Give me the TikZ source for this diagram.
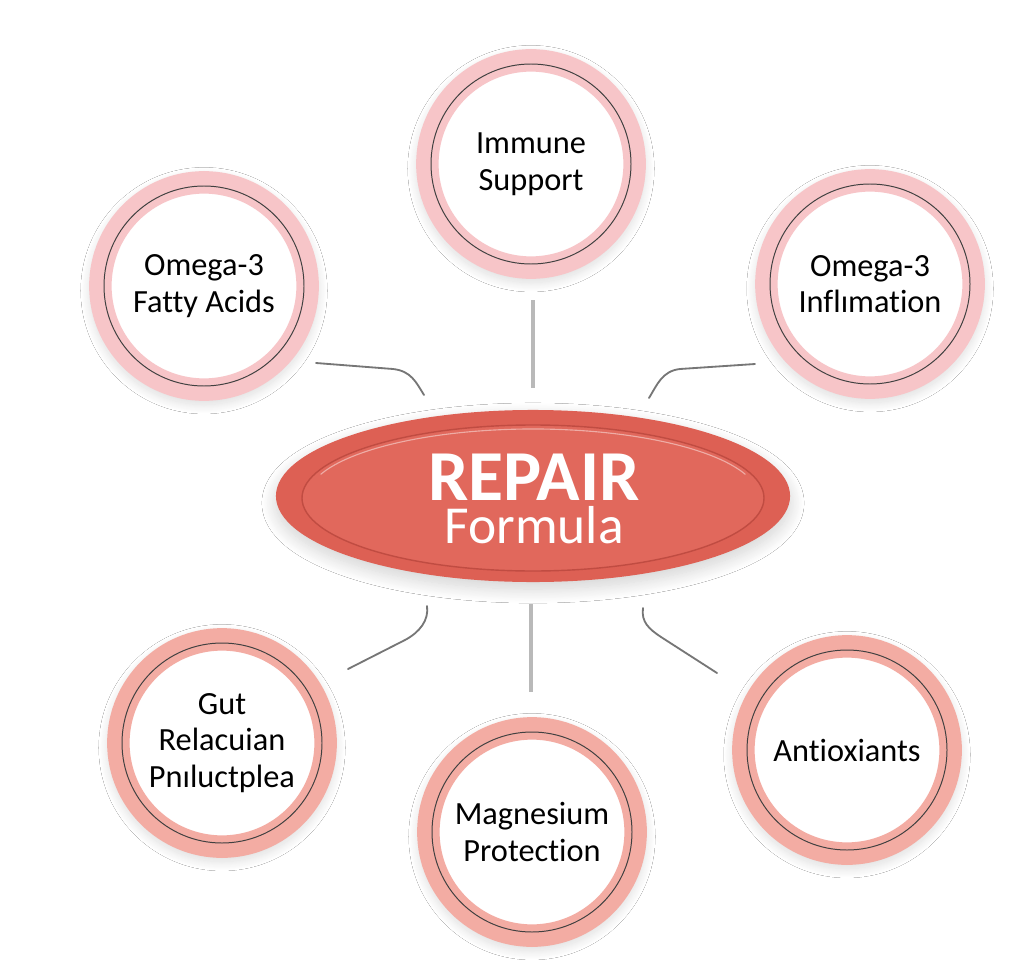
\documentclass[tikz,border=0pt]{standalone}
\usepackage{fontspec}
\setmainfont{Carlito}[Ligatures={NoCommon}]
\usetikzlibrary{positioning, shapes.geometric, shadows.blur, calc}
\definecolor{ringpink}{RGB}{247,197,200}
\definecolor{ringsalmon}{RGB}{243,172,163}
\definecolor{hubred}{RGB}{221,96,84}
\definecolor{hubface}{RGB}{225,104,92}
\definecolor{hubrim}{RGB}{192,76,66}
\definecolor{linkgray}{RGB}{118,118,118}
\definecolor{stemgray}{RGB}{185,185,185}

\begin{document}
\begin{tikzpicture}[x=0.025cm, y=-0.025cm,
          bubble/.style={circle, draw=#1, fill=white, line width=16pt, minimum size=5.18cm, inner sep=0pt, align=center,
            font=\fontsize{23}{26}\selectfont,
            blur shadow={shadow xshift=0pt, shadow yshift=-3pt, shadow scale=1.1, shadow blur radius=6pt, shadow blur steps=20, shadow opacity=14}},
          hubshape/.style={ellipse, fill=hubred, minimum width=12.85cm, minimum height=4.3cm, inner sep=0pt,
            blur shadow={shadow xshift=0pt, shadow yshift=-5pt, shadow blur radius=10pt, shadow blur steps=20, shadow opacity=18}},
          ringline/.style={draw=black!75, line width=0.7pt},
          hubtext/.style={text=white, inner sep=0pt, align=center, font=\fontsize{38}{30}\selectfont},
          link/.style={draw=linkgray, line width=1.3pt, line cap=round},
          stem/.style={draw=stemgray, line width=2.6pt}
        ]
        \fill[white] (0,0) rectangle (1024,978);
        \useasboundingbox (0,0) rectangle (1024,978);
        % outer bubbles
        \node[bubble=ringpink] (immune) at (531,164) {Immune\\Support};
        \node[bubble=ringpink] (fatty) at (204,286) {Omega-3\\Fatty Acids};
        \node[bubble=ringpink] (inflam) at (870,284) {Omega-3\\Inflımation};
        \node[bubble=ringsalmon] (gut) at (222,743) {Gut\\Relacuian\\Pnıluctplea};
        \node[bubble=ringsalmon] (magnes) at (532,832) {Magnesium\\Protection};
        \node[bubble=ringsalmon] (antiox) at (847,750) {Antioxiants};
        \foreach \b in {immune, fatty, inflam, gut, magnes, antiox}
          \draw[ringline] (\b.center) circle[radius=100];
        % central hub
        \node[hubshape] (hub) at (533,496) {};
        \draw[fill=hubface, draw=hubrim, line width=1pt] (hub.center) ++(0,2) ellipse[x radius=231, y radius=73];
        \draw[white, opacity=0.45, line width=0.8pt] ($(hub.center)+(0,2)$) ++(200:226 and 69) arc[start angle=200, end angle=340, x radius=226, y radius=69];
        \node[hubtext] (title) at (534,499) {{\fontsize{51}{51}\selectfont\bfseries REPAIR}\\Formula};
        % connectors
        \coordinate (fa1) at (316,363); \coordinate (fa2) at (393,369); \coordinate (fa3) at (424,395);
        \coordinate (in1) at (755,364); \coordinate (in2) at (680,369); \coordinate (in3) at (649,398);
        \coordinate (gu1) at (348,669); \coordinate (gu2) at (405,640); \coordinate (gu3) at (427,606);
        \coordinate (an1) at (717,673); \coordinate (an2) at (661,637); \coordinate (an3) at (643,608);
        \coordinate (im1) at (533,300); \coordinate (im2) at (533,388);
        \coordinate (ma1) at (531,604); \coordinate (ma2) at (531,692);
        \draw[link] (fa1) -- (fa2) .. controls +(18,2) and +(-8,-13) .. (fa3);
        \draw[link] (in1) -- (in2) .. controls +(-18,2) and +(8,-13) .. (in3);
        \draw[link] (gu1) -- (gu2) .. controls +(15,-8) and +(2,14) .. (gu3);
        \draw[link] (an1) -- (an2) .. controls +(-12,-8) and +(-2,14) .. (an3);
        \draw[stem] (im1) -- (im2);
        \draw[stem] (ma1) -- (ma2);
        \end{tikzpicture}
\end{document}
